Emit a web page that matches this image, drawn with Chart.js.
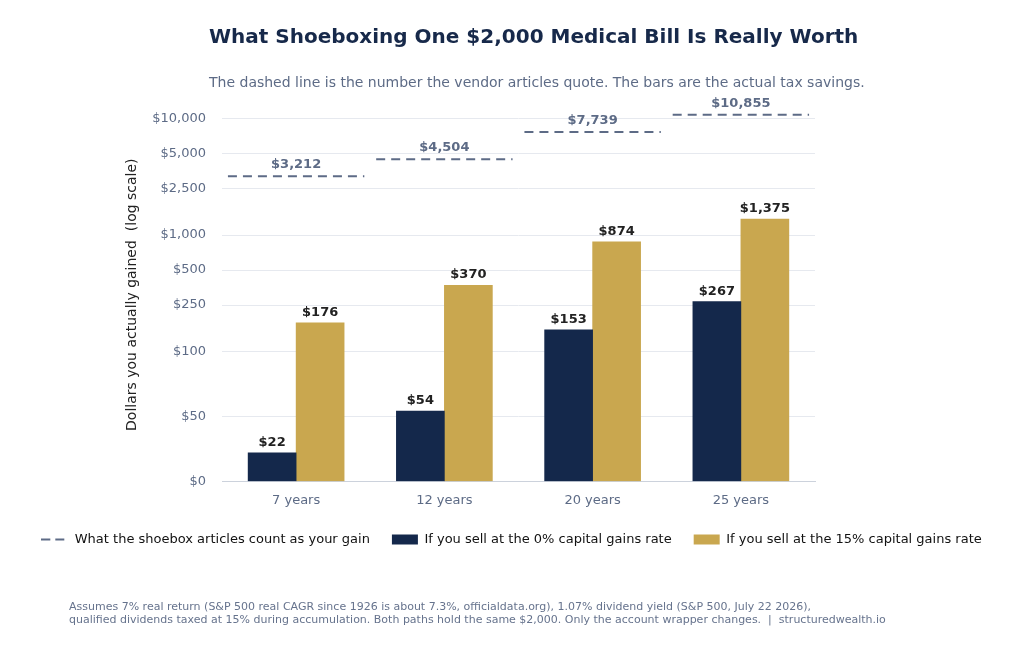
<!DOCTYPE html>
<html><head><meta charset="utf-8">
<script src="https://cdn.jsdelivr.net/npm/chart.js@4"></script>
<style>
body{margin:0;width:1024px;height:654px;position:relative;background:#fff;font-family:"DejaVu Sans",sans-serif;overflow:hidden}
#c{position:absolute;left:0;top:0}
.t{position:absolute;white-space:nowrap}
</style></head><body>
<canvas id="c" width="1024" height="654"></canvas>
<div class="t" style="left:209px;top:24px;font-size:20px;font-weight:bold;color:#17294a">What Shoeboxing One $2,000 Medical Bill Is Really Worth</div>
<div class="t" style="left:209px;top:74px;font-size:14px;color:#5d6b86">The dashed line is the number the vendor articles quote. The bars are the actual tax savings.</div>
<div class="t" style="left:69px;top:600px;font-size:11px;line-height:13px;color:#66738d">Assumes 7% real return (S&amp;P 500 real CAGR since 1926 is about 7.3%, officialdata.org), 1.07% dividend yield (S&amp;P 500, July 22 2026),<br>qualified dividends taxed at 15% during accumulation. Both paths hold the same $2,000. Only the account wrapper changes.&nbsp; |&nbsp; structuredwealth.io</div>
<script>
const categories = ['7 years', '12 years', '20 years', '25 years'];
const quoted = [3212, 4504, 7739, 10855];
const rate0 = [22, 54, 153, 267];
const rate15 = [176, 370, 874, 1375];
const tickValues = [0, 50, 100, 250, 500, 1000, 2500, 5000, 10000];

// linear below $100, log above
const K = 130 / 116;
const t = v => v <= 100 ? v / 100 * K : K + Math.log10(v / 100);
const money = v => '$' + v.toLocaleString('en-US');

const linePts = [];
quoted.forEach((v, i) => {
  linePts.push({x: i - 0.46, y: t(v)}, {x: i + 0.46, y: t(v)}, {x: i + 0.5, y: null});
});

// dashed legend swatch
const dash = document.createElement('canvas');
dash.width = 28; dash.height = 4;
const dctx = dash.getContext('2d');
dctx.strokeStyle = '#5d6b86'; dctx.lineWidth = 2; dctx.setLineDash([9, 5]);
dctx.beginPath(); dctx.moveTo(0, 2); dctx.lineTo(28, 2); dctx.stroke();

const labelsPlugin = {
  id: 'labels',
  afterDatasetsDraw(chart) {
    const ctx = chart.ctx;
    ctx.save();
    ctx.font = 'bold 13px "DejaVu Sans"';
    ctx.textAlign = 'center';
    ctx.textBaseline = 'bottom';
    [1, 2].forEach(d => {
      const vals = d === 1 ? rate0 : rate15;
      chart.getDatasetMeta(d).data.forEach((b, i) => {
        ctx.fillStyle = '#222';
        ctx.fillText(money(vals[i]), b.x, b.y - 4);
      });
    });
    const y = chart.scales.y, x = chart.scales.x;
    ctx.fillStyle = '#5d6b86';
    quoted.forEach((v, i) => ctx.fillText(money(v), x.getPixelForValue(i), y.getPixelForValue(t(v)) - 5));
    ctx.translate(132, (chart.chartArea.top + chart.chartArea.bottom) / 2);
    ctx.rotate(-Math.PI / 2);
    ctx.font = '14px "DejaVu Sans"';
    ctx.fillStyle = '#222';
    ctx.textBaseline = 'middle';
    ctx.fillText('Dollars you actually gained  (log scale)', 0, 0);
    ctx.restore();
  }
};

new Chart(document.getElementById('c'), {
  data: {
    labels: categories,
    datasets: [
      {type: 'line', label: 'What the shoebox articles count as your gain', data: linePts, xAxisID: 'x2',
       borderColor: '#5d6b86', borderWidth: 2, borderDash: [9, 6], pointRadius: 0, spanGaps: false,
       pointStyle: dash, backgroundColor: '#5d6b86'},
      {type: 'bar', label: 'If you sell at the 0% capital gains rate', data: rate0.map(t),
       backgroundColor: '#14284b', barThickness: 48, pointStyle: 'rect'},
      {type: 'bar', label: 'If you sell at the 15% capital gains rate', data: rate15.map(t),
       backgroundColor: '#c9a74f', barThickness: 48, pointStyle: 'rect'}
    ]
  },
  options: {
    responsive: false, animation: false,
    layout: {padding: {top: 108, bottom: 98, left: 0, right: 0}},
    plugins: {
      title: {display: false}, tooltip: {enabled: false},
      legend: {position: 'bottom', labels: {usePointStyle: true, pointStyleWidth: 26, boxHeight: 10,
        padding: 22, color: '#111', font: {family: 'DejaVu Sans', size: 13}}}
    },
    scales: {
      x: {grid: {display: false}, border: {color: '#ccd2dc'},
          ticks: {color: '#5d6b86', font: {family: 'DejaVu Sans', size: 13}}},
      x2: {type: 'linear', display: false, min: -0.5, max: 3.5},
      y: {min: 0, max: 3.215,
          afterFit: s => { s.width = 222; },
          afterBuildTicks: s => { s.ticks = tickValues.map(v => ({value: t(v), label: money(v)})); },
          ticks: {color: '#5d6b86', padding: 16, font: {family: 'DejaVu Sans', size: 13}, callback: (v, i) => money(tickValues[i])},
          grid: {color: '#e6e9ef', drawTicks: false}, border: {display: false}},
      yr: {position: 'right', min: 0, max: 1, afterFit: s => { s.width = 209; },
           grid: {display: false}, border: {display: false}, ticks: {display: false}}
    }
  },
  plugins: [labelsPlugin]
});
</script>
</body></html>
